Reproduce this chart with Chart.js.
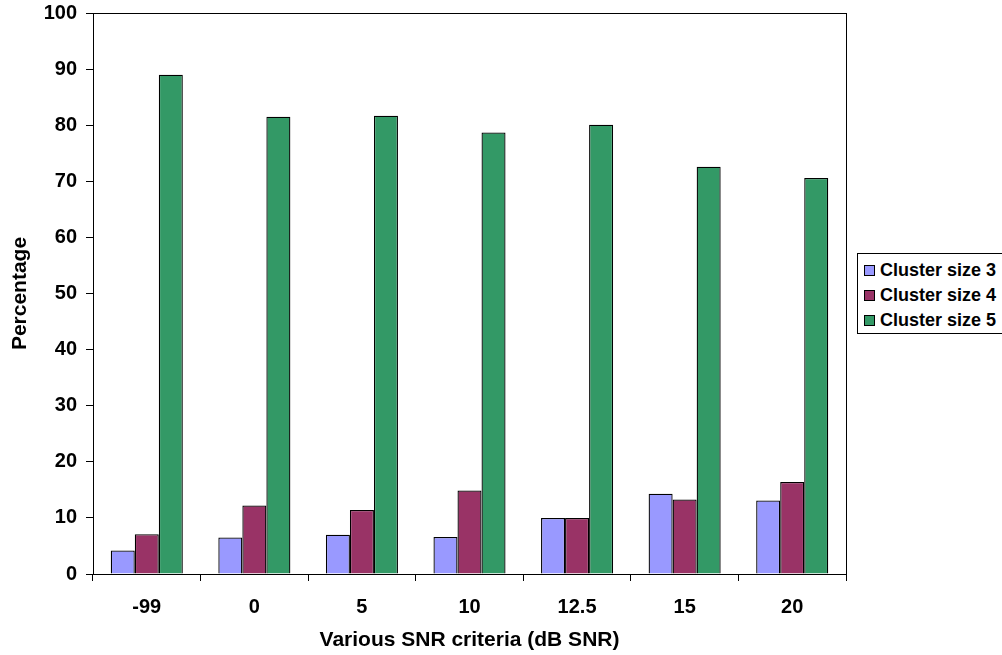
<!DOCTYPE html>
<html>
<head>
<meta charset="utf-8">
<script src="https://cdn.jsdelivr.net/npm/chart.js@4/dist/chart.umd.min.js"></script>
<style>
  html, body { margin: 0; padding: 0; background: #fff; }
  #wrap { position: relative; width: 1002px; height: 655px; }
  #legend {
    position: absolute; left: 857px; top: 253px; width: 146px; height: 81px;
    border: 1px solid #000; box-sizing: border-box; background: #fff;
    font-family: "Liberation Sans", Arial, sans-serif; font-weight: bold; font-size: 18px;
    padding-top: 5px;
  }
  .item { height: 25px; line-height: 22px; white-space: nowrap; padding-left: 6px; }
  .swatch { display: inline-block; width: 9px; height: 9px; border: 1px solid #000; margin-right: 5px; vertical-align: 0px; }
</style>
</head>
<body>
<div id="wrap">
  <canvas id="chart" width="1002" height="655"></canvas>
  <div id="legend"></div>
</div>
<script>
const categories = ['-99', '0', '5', '10', '12.5', '15', '20'];
const clusterSize3 = [4.2, 6.5, 7.0, 6.6, 10.0, 14.3, 13.1];
const clusterSize4 = [7.1, 12.2, 11.4, 14.9, 10.0, 13.3, 16.4];
const clusterSize5 = [89.0, 81.5, 81.7, 78.7, 80.1, 72.6, 70.6];
const seriesNames = ['Cluster size 3', 'Cluster size 4', 'Cluster size 5'];
const seriesColors = ['#9999ff', '#993366', '#339966'];

const family = '"Liberation Sans", Arial, sans-serif';
const tickFont = { family, weight: 'bold', size: 20 };
const titleFont = { family, weight: 'bold', size: 21 };

const frame = {
  id: 'frame',
  afterDraw(chart) {
    const { ctx, chartArea: a } = chart;
    ctx.save();
    ctx.strokeStyle = '#000';
    ctx.lineWidth = 1;
    ctx.strokeRect(Math.round(a.left) + 0.5, Math.round(a.top) + 0.5, Math.round(a.right - a.left), Math.round(a.bottom - a.top));
    ctx.restore();
  }
};

const chart = new Chart(document.getElementById('chart').getContext('2d'), {
  type: 'bar',
  data: {
    labels: categories,
    datasets: [clusterSize3, clusterSize4, clusterSize5].map((d, i) => ({
      label: seriesNames[i],
      data: d,
      backgroundColor: seriesColors[i],
      borderColor: '#000',
      borderWidth: 1.3,
      categoryPercentage: 0.67,
      barPercentage: 1.0,
    }))
  },
  options: {
    responsive: false,
    animation: false,
    layout: { padding: { top: 13, right: 156, left: 0, bottom: 0 } },
    plugins: { legend: { display: false }, tooltip: { enabled: false } },
    scales: {
      x: {
        grid: { drawOnChartArea: false, drawTicks: true, tickLength: 7, color: '#000' },
        border: { color: '#000', width: 1 },
        ticks: { color: '#000', font: tickFont, padding: 14, maxRotation: 0 },
        title: { display: true, text: 'Various SNR criteria (dB SNR)', color: '#000', font: titleFont, padding: { top: 4, bottom: 2 } },
        afterFit: (s) => { s.height = 81; s.paddingLeft = 0; s.paddingRight = 0; }
      },
      y: {
        min: 0, max: 100,
        grid: { drawOnChartArea: false, drawTicks: true, tickLength: 7, color: '#000' },
        border: { color: '#000', width: 1 },
        ticks: { color: '#000', font: tickFont, stepSize: 10, padding: 9 },
        title: { display: true, text: 'Percentage', color: '#000', font: titleFont, padding: { top: 8, bottom: 4 } },
        afterFit: (s) => { s.width = 93; s.paddingTop = 0; s.paddingBottom = 0; }
      }
    }
  },
  plugins: [frame]
});

document.getElementById('legend').innerHTML = chart.data.datasets.map(ds =>
  `<div class="item"><span class="swatch" style="background:${ds.backgroundColor}"></span>${ds.label}</div>`
).join('');
</script>
</body>
</html>
